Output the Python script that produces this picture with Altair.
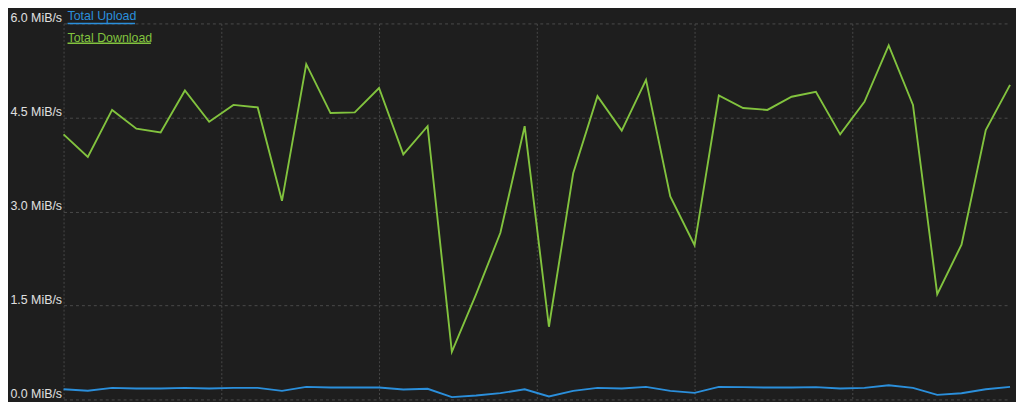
import altair as alt
import pandas as pd

# sample index (one sample per step)
samples = list(range(40))

total_download = [
    4.23, 3.87, 4.62, 4.32, 4.26, 4.93, 4.43, 4.70, 4.66, 3.17,
    5.35, 4.57, 4.58, 4.97, 3.91, 4.36, 0.76, 1.68, 2.66, 4.36,
    1.16, 3.61, 4.84, 4.29, 5.10, 3.24, 2.46, 4.85, 4.65, 4.62,
    4.83, 4.91, 4.23, 4.75, 5.65, 4.70, 1.68, 2.47, 4.30, 5.02,
]
total_upload = [
    0.163, 0.140, 0.185, 0.174, 0.174, 0.185, 0.174, 0.185, 0.185, 0.137,
    0.200, 0.190, 0.190, 0.190, 0.158, 0.170, 0.037, 0.063, 0.100, 0.163,
    0.047, 0.137, 0.185, 0.174, 0.200, 0.137, 0.105, 0.200, 0.196, 0.190,
    0.190, 0.196, 0.174, 0.185, 0.227, 0.185, 0.074, 0.100, 0.163, 0.200,
]
series_names = ["Total Upload", "Total Download"]
series_colors = ["#2b8fdb", "#82c33e"]
y_ticks = [0.0, 1.5, 3.0, 4.5, 6.0]
x_grid = [0, 6.5, 13, 19.5, 26, 32.5]

df = pd.DataFrame({
    "t": samples * 2,
    "rate": total_upload + total_download,
    "series": [series_names[0]] * len(samples) + [series_names[1]] * len(samples),
})

W, H = 954, 379

base = alt.Chart(df).encode(
    x=alt.X("t:Q",
            scale=alt.Scale(domain=[0, 39], nice=False, zero=False),
            axis=alt.Axis(values=x_grid, labels=False, ticks=False, domain=False,
                          title=None, grid=True, gridColor="#484848",
                          gridDash=[2, 2], gridWidth=1)),
    y=alt.Y("rate:Q",
            scale=alt.Scale(domain=[0, 6], nice=False),
            axis=alt.Axis(values=y_ticks, ticks=False, domain=False, title=None,
                          labelExpr="format(datum.value, '.1f') + ' MiB/s'",
                          labelAlign="right", labelBaseline="alphabetic",
                          labelOffset=-2, labelPadding=2, labelFlush=False,
                          labelOverlap=False, labelColor="#e0e0e0",
                          labelFontSize=12.5, labelFont="Liberation Sans",
                          grid=True, gridColor="#4a4a4a", gridDash=[3, 3],
                          gridWidth=1)),
    color=alt.Color("series:N",
                    scale=alt.Scale(domain=series_names, range=series_colors),
                    legend=None),
    detail="series:N",
)

lines = base.mark_line(strokeWidth=1.9, interpolate="linear")

legend_layers = []
legend_pos = [(-7, 0, 72), (15, 20, 88)]
for name, col, (ty, uy, ux2) in zip(series_names, series_colors, legend_pos):
    ldf = pd.DataFrame({"label": [name]})
    legend_layers.append(
        alt.Chart(ldf).mark_text(align="left", baseline="middle", fontSize=12.5,
                                 font="Liberation Sans", color=col)
        .encode(text="label:N", x=alt.value(4), y=alt.value(ty))
    )
    legend_layers.append(
        alt.Chart(ldf).mark_rule(color=col, strokeWidth=1.4)
        .encode(x=alt.value(4), x2=alt.value(ux2), y=alt.value(uy))
    )

chart = alt.layer(lines, *legend_layers).properties(
    width=W, height=H,
    autosize=alt.AutoSizeParams(type="none"),
    padding={"left": 56, "top": 14, "right": 6, "bottom": 1},
    background="#1e1e1e",
).configure_view(stroke=None)

chart.save("out.html", embed_options={"renderer": "svg", "actions": False})
